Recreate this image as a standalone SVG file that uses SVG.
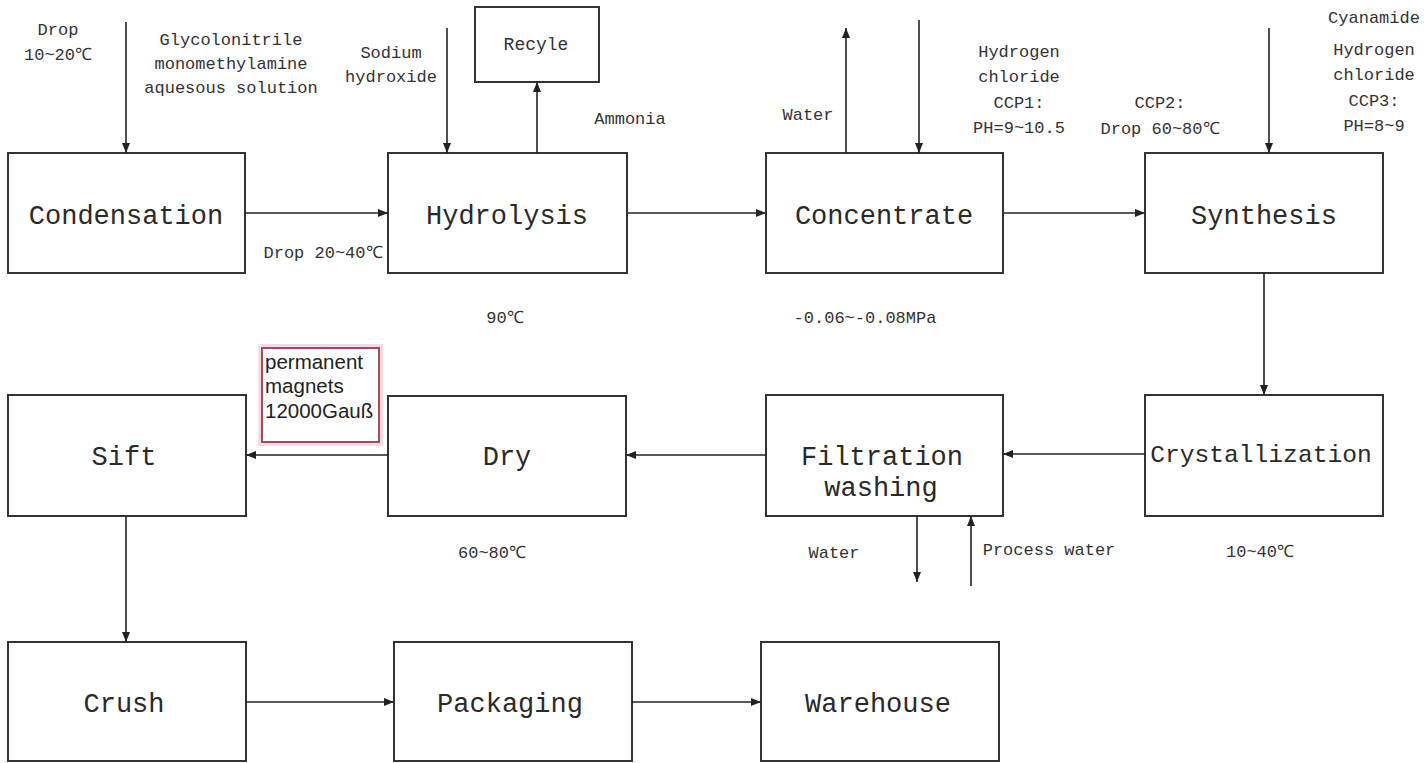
<svg xmlns="http://www.w3.org/2000/svg" width="1424" height="763" viewBox="0 0 1424 763">
<defs>
<marker id="arr" viewBox="0 0 10 8" refX="10" refY="4" markerWidth="10" markerHeight="8" markerUnits="userSpaceOnUse" orient="auto">
<path d="M0,0 L10,4 L0,8 z" fill="#222"/>
</marker>
</defs>
<style>
.box{fill:#fff;stroke:#333;stroke-width:2}
.lbl{font-family:"Liberation Mono","DejaVu Sans Mono",monospace;font-size:27px;fill:#2a2a2a;text-anchor:middle}
.sm{font-family:"Liberation Mono","DejaVu Sans Mono",monospace;font-size:17px;fill:#333;text-anchor:middle}
.con line{stroke:#222;stroke-width:1.6;marker-end:url(#arr)}
.red{fill:#fff;stroke:#a8485c;stroke-width:2}
.ar{font-family:"Liberation Sans",Arial,sans-serif;font-size:20.5px;fill:#222}
</style>
<rect width="1424" height="763" fill="#fff"/>

<g id="condensation"><rect class="box" x="8" y="153" width="237" height="120"/><text class="lbl" x="126" y="224">Condensation</text></g>
<g id="hydrolysis"><rect class="box" x="388" y="153" width="239" height="120"/><text class="lbl" x="507" y="224">Hydrolysis</text></g>
<g id="concentrate"><rect class="box" x="766" y="153" width="237" height="120"/><text class="lbl" x="884" y="224">Concentrate</text></g>
<g id="synthesis"><rect class="box" x="1145" y="153" width="238" height="120"/><text class="lbl" x="1264" y="224">Synthesis</text></g>
<g id="recycle"><rect class="box" x="475" y="7" width="124" height="75"/><text class="sm" x="536" y="50" style="font-size:18px">Recyle</text></g>

<g id="crystallization"><rect class="box" x="1145" y="395" width="238" height="121"/><text class="lbl" x="1261" y="462" style="font-size:24.6px">Crystallization</text></g>
<g id="filtration"><rect class="box" x="766" y="395" width="237" height="121"/><text class="lbl" x="882" y="465">Filtration</text><text class="lbl" x="881" y="496">washing</text></g>
<g id="dry"><rect class="box" x="388" y="396" width="238" height="120"/><text class="lbl" x="507" y="465">Dry</text></g>
<g id="sift"><rect class="box" x="8" y="395" width="238" height="121"/><text class="lbl" x="124" y="465">Sift</text></g>
<g id="magnets"><rect x="260" y="346" width="121" height="98" fill="none" stroke="#f3dde3" stroke-width="4"/><rect class="red" x="262" y="348" width="117" height="94"/><text class="ar" x="265" y="369">permanent</text><text class="ar" x="265" y="393">magnets</text><text class="ar" x="265" y="418">12000Gauß</text></g>

<g id="crush"><rect class="box" x="8" y="642" width="238" height="119"/><text class="lbl" x="124" y="712">Crush</text></g>
<g id="packaging"><rect class="box" x="394" y="642" width="238" height="119"/><text class="lbl" x="510" y="712">Packaging</text></g>
<g id="warehouse"><rect class="box" x="761" y="642" width="238" height="119"/><text class="lbl" x="878" y="712">Warehouse</text></g>

<g class="con" id="connectors">
<line x1="126" y1="22" x2="126" y2="153"/>
<line x1="245" y1="213" x2="388" y2="213"/>
<line x1="447" y1="28" x2="447" y2="153"/>
<line x1="537" y1="153" x2="537" y2="82"/>
<line x1="627" y1="213" x2="766" y2="213"/>
<line x1="846" y1="153" x2="846" y2="28"/>
<line x1="919" y1="20" x2="919" y2="153"/>
<line x1="1003" y1="213" x2="1145" y2="213"/>
<line x1="1269" y1="28" x2="1269" y2="153"/>
<line x1="1264" y1="273" x2="1264" y2="395"/>
<line x1="1145" y1="454" x2="1003" y2="454"/>
<line x1="766" y1="455" x2="626" y2="455"/>
<line x1="388" y1="455" x2="246" y2="455"/>
<line x1="917" y1="516" x2="917" y2="582"/>
<line x1="971" y1="586" x2="971" y2="516"/>
<line x1="126" y1="516" x2="126" y2="642"/>
<line x1="246" y1="702" x2="394" y2="702"/>
<line x1="632" y1="702" x2="761" y2="702"/>
</g>

<g id="labels">
<text class="sm" x="58" y="35">Drop</text>
<text class="sm" x="58" y="60">10~20℃</text>
<text class="sm" x="231" y="45">Glycolonitrile</text>
<text class="sm" x="231" y="69">monomethylamine</text>
<text class="sm" x="231" y="93">aquesous solution</text>
<text class="sm" x="391" y="58">Sodium</text>
<text class="sm" x="391" y="82">hydroxide</text>
<text class="sm" x="630" y="124">Ammonia</text>
<text class="sm" x="323" y="258">Drop 20~40℃</text>
<text class="sm" x="505" y="323">90℃</text>
<text class="sm" x="808" y="120">Water</text>
<text class="sm" x="1019" y="57">Hydrogen</text>
<text class="sm" x="1019" y="82">chloride</text>
<text class="sm" x="1019" y="108">CCP1:</text>
<text class="sm" x="1019" y="133">PH=9~10.5</text>
<text class="sm" x="865" y="323">-0.06~-0.08MPa</text>
<text class="sm" x="1160" y="108">CCP2:</text>
<text class="sm" x="1160" y="134">Drop 60~80℃</text>
<text class="sm" x="1374" y="23">Cyanamide</text>
<text class="sm" x="1374" y="55">Hydrogen</text>
<text class="sm" x="1374" y="80">chloride</text>
<text class="sm" x="1374" y="106">CCP3:</text>
<text class="sm" x="1374" y="131">PH=8~9</text>
<text class="sm" x="492" y="558">60~80℃</text>
<text class="sm" x="834" y="558">Water</text>
<text class="sm" x="1049" y="555">Process water</text>
<text class="sm" x="1260" y="557">10~40℃</text>
</g>
</svg>
